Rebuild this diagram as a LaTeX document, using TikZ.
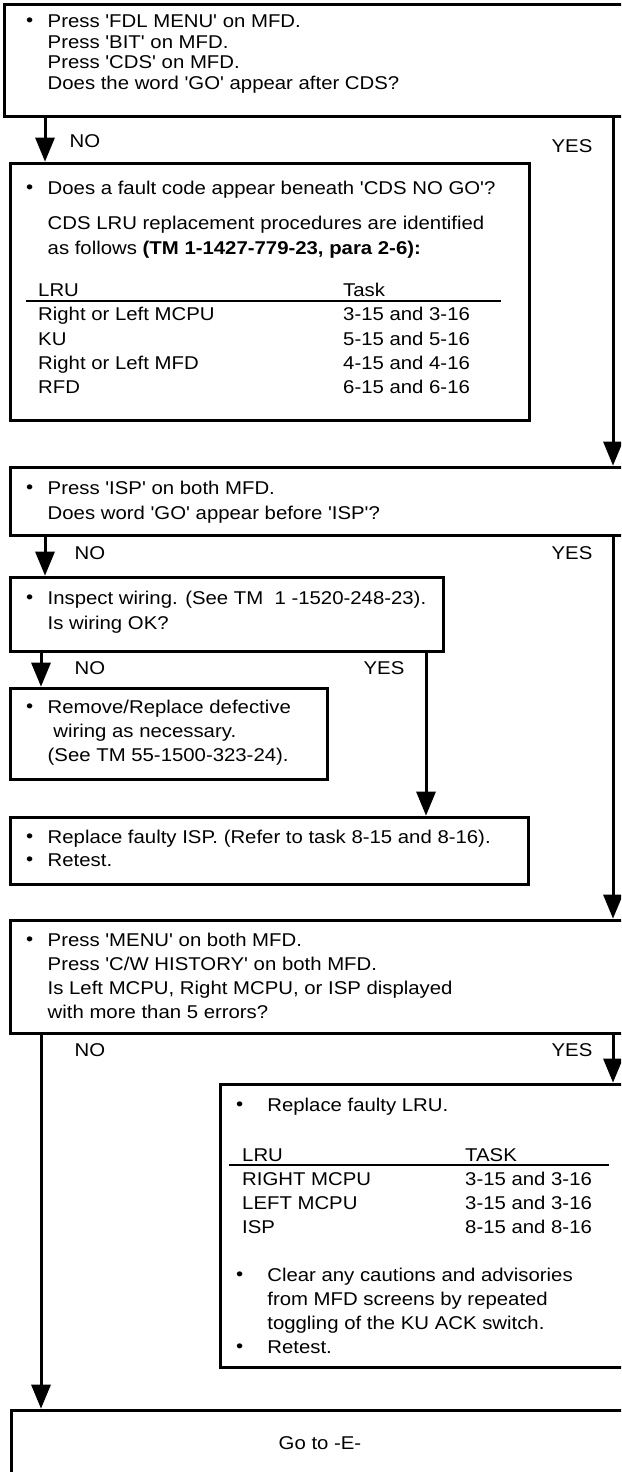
\documentclass[tikz,border=0pt]{standalone}
\usepackage{fontspec}
\setmainfont{Liberation Sans}[Ligatures=TeXOff, FakeStretch=1.1]
\usetikzlibrary{arrows.meta}
\definecolor{LineColor}{RGB}{0,0,0}
\newcommand{\blt}[1][21.5pt]{\makebox[#1][l]{\raisebox{1.5pt}{\textbullet}}}
\newcommand{\ind}[1][21.5pt]{\hspace*{#1}}
\tikzstyle{frame} = [draw=LineColor, line width=3pt, inner sep=0pt, outer sep=0pt, anchor=north west]
\tikzstyle{arrow} = [line width=3pt, LineColor, -{Triangle[length=24pt, width=20pt, line width=0pt]}, shorten >=1.5pt]
\tikzstyle{txt} = [anchor=north west, inner sep=0pt, align=left, font=\fontsize{18.5}{24}\selectfont]
\tikzstyle{answer} = [inner sep=0pt, font=\fontsize{18.5}{22}\selectfont]
\tikzstyle{rule} = [line width=1.2pt, LineColor]

\begin{document}
\begin{tikzpicture}[x=1pt, y=-1pt]
            \useasboundingbox (0,0) rectangle (621,1472);
            \clip (0,0) rectangle (621,1472);
            % Boxes
            \node[frame, minimum width=636pt, minimum height=111pt] (q1) at (4,5) {};
            \node[frame, minimum width=519pt, minimum height=257pt] (q2) at (10,163) {};
            \node[frame, minimum width=630pt, minimum height=68pt] (q3) at (10,467) {};
            \node[frame, minimum width=433pt, minimum height=74pt] (q4) at (10,577) {};
            \node[frame, minimum width=317pt, minimum height=91pt] (q5) at (10,688) {};
            \node[frame, minimum width=518pt, minimum height=67pt] (q6) at (10,817) {};
            \node[frame, minimum width=630pt, minimum height=113pt] (q7) at (10,920) {};
            \node[frame, minimum width=420pt, minimum height=283pt] (q8) at (220,1084) {};
            \node[frame, minimum width=618pt, minimum height=100pt] (q9) at (11,1410) {};
            % Box texts
            \node[txt, font=\fontsize{18.5}{20.5}\selectfont] (t1) at (26,15) {\blt Press 'FDL MENU' on MFD.\\ \ind Press 'BIT' on MFD.\\ \ind Press 'CDS' on MFD.\\ \ind Does the word 'GO' appear after CDS?};
            \node[txt] (t2) at (26,181) {\blt Does a fault code appear beneath 'CDS NO GO'?};
            \node[txt, font=\fontsize{18.5}{25}\selectfont] (t2b) at (47.5,216) {CDS LRU replacement procedures are identified\\ as follows \textbf{(TM 1-1427-779-23, para 2-6):}};
            \node[txt, font=\fontsize{18.5}{24.3}\selectfont] (t2c) at (38,283) {\makebox[305pt][l]{LRU}Task\\ \makebox[305pt][l]{Right or Left MCPU}3-15 and 3-16\\ \makebox[305pt][l]{KU}5-15 and 5-16\\ \makebox[305pt][l]{Right or Left MFD}4-15 and 4-16\\ \makebox[305pt][l]{RFD}6-15 and 6-16};
            \draw[rule] (26,301) -- (501,301);
            \node[txt, font=\fontsize{18.5}{25}\selectfont] (t3) at (26,481) {\blt Press 'ISP' on both MFD.\\ \ind Does word 'GO' appear before 'ISP'?};
            \node[txt, font=\fontsize{18.5}{25}\selectfont] (t4) at (26,591) {\blt Inspect wiring. (See TM~~1 -1520-248-23).\\ \ind Is wiring OK?};
            \node[txt] (t5) at (26,700) {\blt Remove/Replace defective\\ \ind\ wiring as necessary.\\ \ind (See TM 55-1500-323-24).};
            \node[txt, font=\fontsize{18.5}{23}\selectfont] (t6) at (26,830) {\blt Replace faulty ISP. (Refer to task 8-15 and 8-16).\\ \blt Retest.};
            \node[txt] (t7) at (26,933) {\blt Press 'MENU' on both MFD.\\ \ind Press 'C/W HISTORY' on both MFD.\\ \ind Is Left MCPU, Right MCPU, or ISP displayed\\ \ind with more than 5 errors?};
            \node[txt] (t8) at (236,1098) {\blt[25.5pt] Replace faulty LRU.};
            \node[txt] (t8b) at (242,1148) {\makebox[223pt][l]{LRU}TASK\\ \makebox[223pt][l]{RIGHT MCPU}3-15 and 3-16\\ \makebox[223pt][l]{LEFT MCPU}3-15 and 3-16\\ \makebox[223pt][l]{ISP}8-15 and 8-16};
            \draw[rule] (229,1165) -- (609,1165);
            \node[txt] (t8c) at (236,1268) {\blt[25.5pt] Clear any cautions and advisories\\ \ind[25.5pt] from MFD screens by repeated\\ \ind[25.5pt] toggling of the KU ACK switch.\\ \blt[25.5pt] Retest.};
            \node[answer] (t9) at (320,1443) {Go to -E-};
            % Answers
            \node[answer] (no1) at (85,141) {NO};
            \node[answer] (yes1) at (572,146) {YES};
            \node[answer] (no2) at (90,553) {NO};
            \node[answer] (yes2) at (572,553) {YES};
            \node[answer] (no3) at (90,668) {NO};
            \node[answer] (yes3) at (384,668) {YES};
            \node[answer] (no4) at (90,1050) {NO};
            \node[answer] (yes4) at (572,1050) {YES};
            % Connectors
            \draw[arrow] ([xshift=41pt]q1.south west) -- ([xshift=35pt]q2.north west);
            \draw[arrow] ([xshift=609pt]q1.south west) -- ([xshift=603pt]q3.north west);
            \draw[arrow] ([xshift=35pt]q3.south west) -- ([xshift=35pt]q4.north west);
            \draw[arrow] ([xshift=603pt]q3.south west) -- ([xshift=603pt]q7.north west);
            \draw[arrow] ([xshift=31pt]q4.south west) -- ([xshift=31pt]q5.north west);
            \draw[arrow] ([xshift=416pt]q4.south west) -- ([xshift=416pt]q6.north west);
            \draw[arrow] ([xshift=31pt]q7.south west) -- ([xshift=30pt]q9.north west);
            \draw[arrow] ([xshift=603pt]q7.south west) -- ([xshift=393pt]q8.north west);
        \end{tikzpicture}
\end{document}
